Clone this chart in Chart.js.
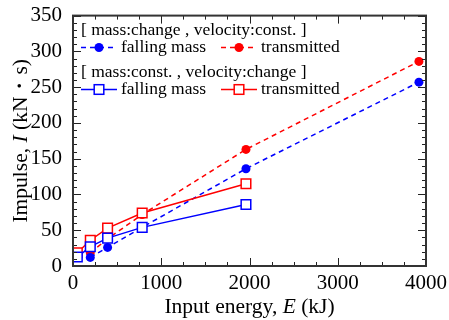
<!DOCTYPE html>
<html>
<head>
<meta charset="utf-8">
<script src="https://cdn.jsdelivr.net/npm/chart.js@4.4.0/dist/chart.umd.min.js"></script>
<style>
  html, body { margin: 0; padding: 0; background: #fff; }
  #wrap { width: 449px; height: 320px; }
</style>
</head>
<body>
<div id="wrap"><canvas id="impulso"></canvas></div>
<script>
// Series: mass changed, velocity constant (dashed, filled circles)
const energiaMassa = [196, 392, 784, 1960, 3920];
const quedaMassa = [12, 26, 54, 136, 257];
const transmitidoMassa = [18.5, 38, 72, 163, 286];

// Series: mass constant, velocity changed (solid, open squares)
const energiaVelocidade = [49, 196, 392, 784, 1960];
const quedaVelocidade = [12.5, 27, 39, 54, 86];
const transmitidoVelocidade = [18.5, 36, 53, 74, 115];

// Axis ranges and tick labels
const xTicks = [0, 1000, 2000, 3000, 4000];
const yTicks = [0, 50, 100, 150, 200, 250, 300, 350];

const legendaGrupos = ['[ mass:change , velocity:const. ]', '[ mass:const. , velocity:change ]'];
const legendaNomes = ['falling mass', 'transmitted'];

const AZUL = '#0000ff';
const VERMELHO = '#ff0000';
const SERIF = '"Liberation Serif", "Times New Roman", serif';

function pares(xs, ys) {
  return xs.map((x, i) => ({ x: x, y: ys[i] }));
}

function serieTracejada(label, xs, ys, cor) {
  return {
    label: label,
    data: pares(xs, ys),
    borderColor: cor,
    backgroundColor: cor,
    borderWidth: 1.5,
    borderDash: [5, 4],
    pointStyle: 'circle',
    pointRadius: 4.5,
    pointBorderWidth: 0,
    tension: 0,
    fill: false,
    order: 1
  };
}

function serieContinua(label, xs, ys, cor) {
  return {
    label: label,
    data: pares(xs, ys),
    borderColor: cor,
    backgroundColor: '#ffffff',
    borderWidth: 1.5,
    pointStyle: 'rect',
    pointRadius: 6.8,
    pointBorderWidth: 1.5,
    tension: 0,
    fill: false,
    order: 0
  };
}

// Frame with inward ticks on all four sides
const molduraPlugin = {
  id: 'moldura',
  afterDraw(chart) {
    const ctx = chart.ctx;
    const a = chart.chartArea;
    const sx = chart.scales.x;
    const sy = chart.scales.y;
    ctx.save();
    ctx.strokeStyle = '#222';
    ctx.lineWidth = 1;
    for (let v = 0; v <= 4000; v += 250) {
      const px = Math.round(sx.getPixelForValue(v)) + 0.5;
      const len = v % 1000 === 0 ? 8 : 4;
      ctx.beginPath();
      ctx.moveTo(px, a.bottom); ctx.lineTo(px, a.bottom - len);
      ctx.moveTo(px, a.top); ctx.lineTo(px, a.top + len);
      ctx.stroke();
    }
    for (let v = 0; v <= 350; v += 10) {
      const py = Math.round(sy.getPixelForValue(v)) + 0.5;
      const len = v % 50 === 0 ? 8 : 4;
      ctx.beginPath();
      ctx.moveTo(a.left, py); ctx.lineTo(a.left + len, py);
      ctx.moveTo(a.right, py); ctx.lineTo(a.right - len, py);
      ctx.stroke();
    }
    ctx.lineWidth = 2;
    ctx.strokeStyle = '#333';
    ctx.strokeRect(a.left, a.top, a.right - a.left, a.bottom - a.top);
    ctx.restore();
  }
};

// Axis titles with an italic symbol
function textoMisto(ctx, partes, x, y) {
  let total = 0;
  partes.forEach(p => { ctx.font = p.font; total += ctx.measureText(p.t).width; });
  let cx = x - total / 2;
  partes.forEach(p => {
    ctx.font = p.font;
    ctx.fillText(p.t, cx, y);
    cx += ctx.measureText(p.t).width;
  });
}

const titulosPlugin = {
  id: 'titulos',
  afterDraw(chart) {
    const ctx = chart.ctx;
    const a = chart.chartArea;
    const normal = '21.5px ' + SERIF;
    const italico = 'italic 21.5px ' + SERIF;
    ctx.save();
    ctx.fillStyle = '#000';
    ctx.textBaseline = 'alphabetic';
    ctx.textAlign = 'left';
    textoMisto(ctx, [
      { t: 'Input energy, ', font: normal },
      { t: 'E', font: italico },
      { t: ' (kJ)', font: normal }
    ], (a.left + a.right) / 2, 313);
    ctx.translate(27, (a.top + a.bottom) / 2);
    ctx.rotate(-Math.PI / 2);
    textoMisto(ctx, [
      { t: 'Impulse, ', font: normal },
      { t: 'I', font: italico },
      { t: ' (kN・s)', font: normal }
    ], 0, 0);
    ctx.restore();
  }
};

// Legend drawn inside the plot area
const legendaPlugin = {
  id: 'legenda',
  afterDraw(chart) {
    const ctx = chart.ctx;
    ctx.save();
    ctx.font = '17.5px ' + SERIF;
    ctx.fillStyle = '#000';
    ctx.textBaseline = 'middle';
    ctx.textAlign = 'left';
    const linhas = [
      { titulo: legendaGrupos[0], yT: 30, yL: 47.5, tracejado: true },
      { titulo: legendaGrupos[1], yT: 72, yL: 89.5, tracejado: false }
    ];
    const colunas = [
      { x0: 81, x1: 117, cor: AZUL, texto: legendaNomes[0], tx: 121 },
      { x0: 221, x1: 257, cor: VERMELHO, texto: legendaNomes[1], tx: 261 }
    ];
    linhas.forEach(l => {
      ctx.fillStyle = '#000';
      ctx.fillText(l.titulo, 81, l.yT);
      colunas.forEach(c => {
        ctx.strokeStyle = c.cor;
        ctx.lineWidth = 1.5;
        ctx.setLineDash(l.tracejado ? [5, 4] : []);
        ctx.beginPath();
        ctx.moveTo(c.x0, l.yL); ctx.lineTo(c.x1, l.yL);
        ctx.stroke();
        ctx.setLineDash([]);
        const mx = (c.x0 + c.x1) / 2;
        if (l.tracejado) {
          ctx.fillStyle = c.cor;
          ctx.beginPath();
          ctx.arc(mx, l.yL, 4.5, 0, Math.PI * 2);
          ctx.fill();
        } else {
          ctx.fillStyle = '#fff';
          ctx.fillRect(mx - 4.8, l.yL - 4.8, 9.6, 9.6);
          ctx.strokeRect(mx - 4.8, l.yL - 4.8, 9.6, 9.6);
        }
        ctx.fillStyle = '#000';
        ctx.fillText(c.texto, c.tx, l.yL);
      });
    });
    ctx.restore();
  }
};

function inicializarGrafico() {
  const canvas = document.getElementById('impulso');
  new Chart(canvas, {
    type: 'line',
    data: {
      datasets: [
        serieContinua('falling mass (velocity change)', energiaVelocidade, quedaVelocidade, AZUL),
        serieContinua('transmitted (velocity change)', energiaVelocidade, transmitidoVelocidade, VERMELHO),
        serieTracejada('falling mass (mass change)', energiaMassa, quedaMassa, AZUL),
        serieTracejada('transmitted (mass change)', energiaMassa, transmitidoMassa, VERMELHO)
      ]
    },
    options: {
      responsive: true,
      maintainAspectRatio: false,
      devicePixelRatio: 1,
      animation: false,
      layout: { padding: { left: 0, right: 23, top: 15, bottom: 0 } },
      plugins: {
        legend: { display: false },
        tooltip: { enabled: false }
      },
      scales: {
        x: {
          type: 'linear',
          min: 0,
          max: 4000,
          grid: { display: false },
          border: { display: false },
          afterFit(scale) { scale.height = 54; },
          afterBuildTicks(scale) { scale.ticks = xTicks.map(v => ({ value: v })); },
          ticks: {
            color: '#000',
            padding: -3,
            maxRotation: 0,
            font: { family: SERIF, size: 21 },
            callback: v => String(v)
          }
        },
        y: {
          type: 'linear',
          min: 0,
          max: 350,
          grid: { display: false },
          border: { display: false },
          afterFit(scale) { scale.width = 73; },
          afterBuildTicks(scale) { scale.ticks = yTicks.map(v => ({ value: v })); },
          ticks: {
            color: '#000',
            padding: 3,
            font: { family: SERIF, size: 21 },
            callback: v => String(v)
          }
        }
      }
    },
    plugins: [molduraPlugin, titulosPlugin, legendaPlugin]
  });
}

document.addEventListener('DOMContentLoaded', inicializarGrafico);
</script>
</body>
</html>
